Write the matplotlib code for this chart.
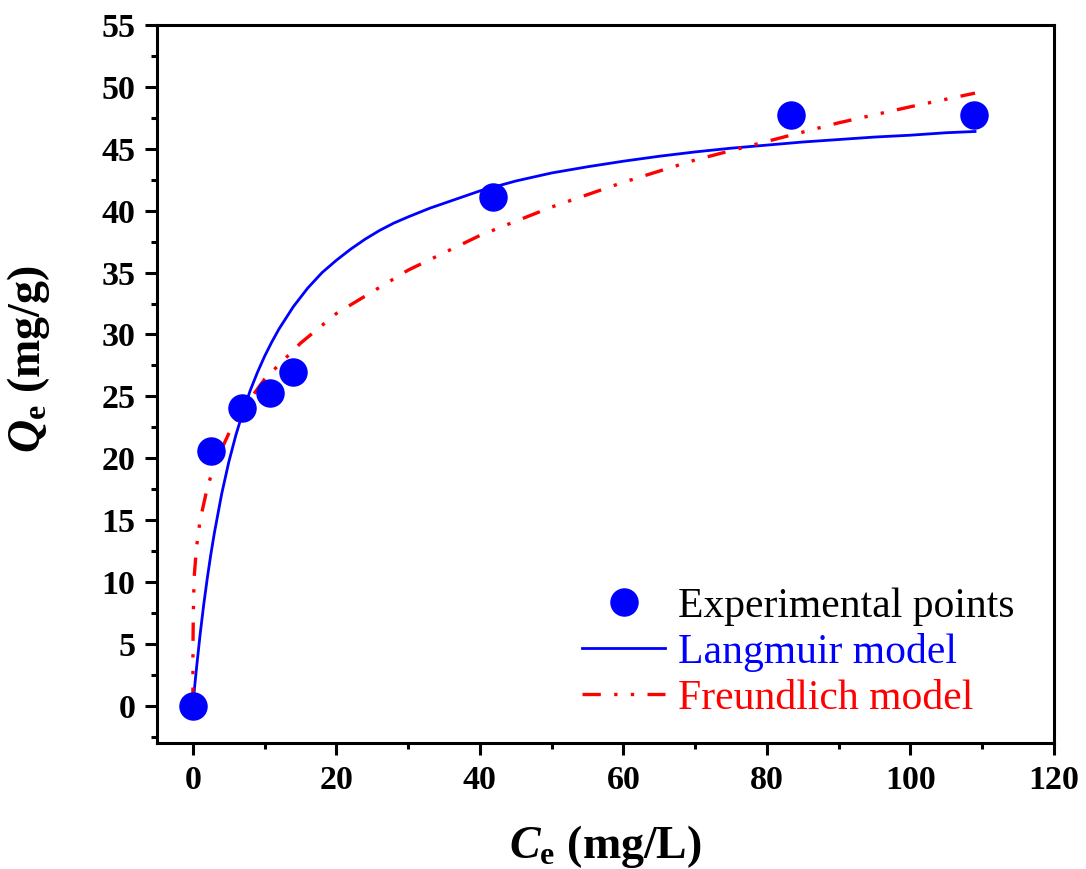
import numpy as np
import matplotlib
matplotlib.use('Agg')
import matplotlib.pyplot as plt
from matplotlib.ticker import MultipleLocator


plt.rcParams['font.family'] = 'Liberation Serif'
plt.rcParams['mathtext.fontset'] = 'custom'
plt.rcParams['mathtext.rm'] = 'Liberation Serif'
plt.rcParams['mathtext.it'] = 'Liberation Serif:italic'
plt.rcParams['mathtext.bf'] = 'Liberation Serif:bold'
plt.rcParams['mathtext.bfit'] = 'Liberation Serif:italic:bold'

# experimental points
ce_exp = [0, 2.5, 6.8, 10.7, 14.0, 41.8, 83.3, 108.9]
qe_exp = [0, 20.6, 24.1, 25.3, 27.0, 41.1, 47.7, 47.7]

# Langmuir model curve
ce_lang = [0, 0.25, 0.5, 1, 1.5, 2, 2.5, 3, 4, 5, 6, 7, 8, 9, 10, 11, 12,
           14, 16, 18, 20, 22, 24, 26, 28, 30, 33, 36, 40, 45, 50, 55, 60,
           65, 70, 75, 80, 85, 90, 95, 100, 105, 109]
qe_lang = [0, 1.6, 3.05, 5.75, 8.15, 10.3, 12.25, 14.0, 17.1, 19.7, 21.9,
           23.8, 25.5, 26.95, 28.25, 29.4, 30.45, 32.25, 33.75, 35.0, 36.0,
           36.9, 37.7, 38.4, 39.0, 39.5, 40.2, 40.8, 41.6, 42.4, 43.05,
           43.55, 44.0, 44.4, 44.75, 45.05, 45.3, 45.55, 45.75, 45.95,
           46.1, 46.3, 46.4]

# Freundlich model curve
ce_freu = [0, 0.001, 0.01, 0.05, 0.1, 0.2, 0.5, 1, 2, 3, 5, 7, 10, 15, 20,
           30, 40, 50, 60, 70, 80, 90, 100, 109]
qe_freu = [0, 2.5, 4.8, 7.2, 8.8, 10.6, 12.8, 15.0, 17.6, 19.5, 22.0, 24.0,
           26.4, 29.3, 31.7, 35.2, 38.0, 40.3, 42.3, 44.1, 45.6, 47.1, 48.4,
           49.5]


fig = plt.figure(figsize=(10.86, 8.69), dpi=100)
ax = fig.add_axes([0.1446, 0.145, 0.8259, 0.8262])

ax.plot(ce_exp, qe_exp, 'o', color='blue', ms=19.5, zorder=3,
        label='Experimental points')
ax.plot(ce_lang, qe_lang, '-', color='blue', lw=2.0,
        label='Langmuir model')
ax.plot(ce_freu, qe_freu, color='red', lw=2.4,
        linestyle=(0, (5.5, 4, 1, 4, 1, 4)), label='Freundlich model')

ax.set_xlim(-5, 120)
ax.set_ylim(-3, 55)
ax.xaxis.set_major_locator(MultipleLocator(20))
ax.xaxis.set_minor_locator(MultipleLocator(10))
ax.yaxis.set_major_locator(MultipleLocator(5))
ax.yaxis.set_minor_locator(MultipleLocator(2.5))

for s in ax.spines.values():
    s.set_linewidth(2.2)
ax.tick_params(which='both', direction='out', width=2.2, top=False,
               right=False)
ax.tick_params(which='major', length=8.5, labelsize=24.5, pad=7)
ax.tick_params(which='minor', length=4.5)
for t in ax.get_xticklabels() + ax.get_yticklabels():
    t.set_fontweight('bold')

ax.set_xlabel(r'$\mathbfit{C}_{\mathbf{e}}$ (mg/L)', fontsize=33,
              fontweight='bold', labelpad=20)
ax.set_ylabel(r'$\mathbfit{Q}_{\mathbf{e}}$ (mg/g)', fontsize=33,
              fontweight='bold')
ax.yaxis.set_label_coords(-0.117, 0.535)

leg = ax.legend(loc='upper left', bbox_to_anchor=(582 / 1086, 1 - 587 / 869),
                bbox_transform=fig.transFigure, borderpad=0,
                borderaxespad=0, frameon=False, fontsize=30,
                handlelength=2.0, handletextpad=0.3, labelspacing=0.18,
                labelcolor=['black', 'blue', 'red'])

fig.savefig('out.png', dpi=100)
